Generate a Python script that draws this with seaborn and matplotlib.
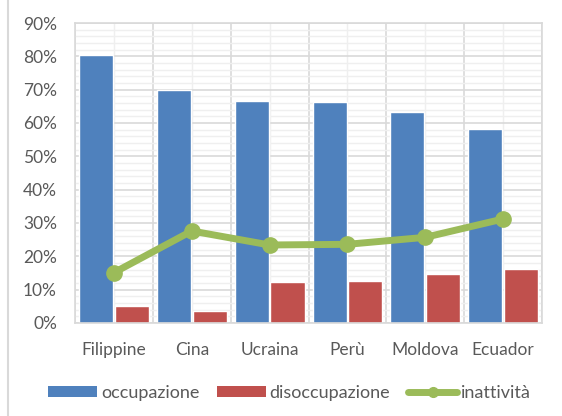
import pandas as pd
import matplotlib.pyplot as plt
import matplotlib.ticker as mticker
from matplotlib.lines import Line2D
from matplotlib.patches import Patch
import seaborn as sns

# Data
paesi = ["Filippine", "Cina", "Ucraina", "Perù", "Moldova", "Ecuador"]
occupazione = [0.805, 0.700, 0.667, 0.664, 0.632, 0.582]
disoccupazione = [0.050, 0.037, 0.122, 0.127, 0.148, 0.162]
inattivita = [0.151, 0.276, 0.234, 0.236, 0.257, 0.312]

blue = "#4F81BD"
red = "#C0504D"
green = "#9BBB59"
text_col = "#595959"

sns.set_theme(style="white")
plt.rcParams['font.family'] = ['Lato', 'DejaVu Sans']

bars = pd.DataFrame({
    "paese": paesi * 2,
    "valore": occupazione + disoccupazione,
    "serie": ["occupazione"] * len(paesi) + ["disoccupazione"] * len(paesi),
})

fig = plt.figure(figsize=(5.62, 4.16), dpi=100)
ax = fig.add_axes([0.1335, 0.2236, 0.9644 - 0.1335, 0.9447 - 0.2236])

sns.barplot(data=bars, x="paese", y="valore", hue="serie",
            palette=[blue, red], width=0.92, gap=0.05, ax=ax,
            legend=False, zorder=2, saturation=1)
ax.plot(range(len(paesi)), inattivita, color=green, linewidth=5,
        marker="o", markersize=11, zorder=3, solid_capstyle="round")

# axes and grids
ax.set_xlim(-0.5, len(paesi) - 0.5)
ax.set_ylim(0, 0.9)
ax.yaxis.set_major_locator(mticker.MultipleLocator(0.1))
ax.yaxis.set_minor_locator(mticker.MultipleLocator(0.02))
ax.yaxis.set_major_formatter(mticker.PercentFormatter(1.0, decimals=0))
ax.xaxis.set_minor_locator(mticker.MultipleLocator(1, offset=0.5))
ax.grid(which="major", axis="y", color="#d9d9d9", linewidth=1.2, zorder=0)
ax.grid(which="minor", axis="y", color="#efefef", linewidth=1.0, zorder=0)
ax.grid(which="minor", axis="x", color="#d9d9d9", linewidth=1.2, zorder=0)
ax.grid(which="major", axis="x", color="#efefef", linewidth=1.0, zorder=0)
ax.set_axisbelow(True)
for side in ["top", "right", "left", "bottom"]:
    ax.spines[side].set_color("#d9d9d9")
    ax.spines[side].set_linewidth(1.2)
ax.tick_params(which="both", length=0)
ax.tick_params(axis="x", pad=14, labelsize=12.5, labelcolor=text_col)
ax.tick_params(axis="y", pad=13, labelsize=12.5, labelcolor=text_col)
ax.set_xlabel("")
ax.set_ylabel("")

# legend at the bottom
handles = [
    Patch(facecolor=blue, edgecolor="none"),
    Patch(facecolor=red, edgecolor="none"),
    Line2D([0], [0], color=green, linewidth=5, marker="o", markersize=7,
           solid_capstyle="round"),
]
fig.legend(handles, ["occupazione", "disoccupazione", "inattività"],
           loc="center", bbox_to_anchor=(0.515, 0.055), ncol=3, frameon=False,
           fontsize=13, labelcolor=text_col, handlelength=2.7,
           handleheight=0.6, handletextpad=0.2, columnspacing=1.0)

# chart area border on the left
fig.add_artist(Line2D([0.014, 0.014], [0, 1], color="#d9d9d9", linewidth=1.5,
                      transform=fig.transFigure))

fig.savefig("out.png", dpi=100)
